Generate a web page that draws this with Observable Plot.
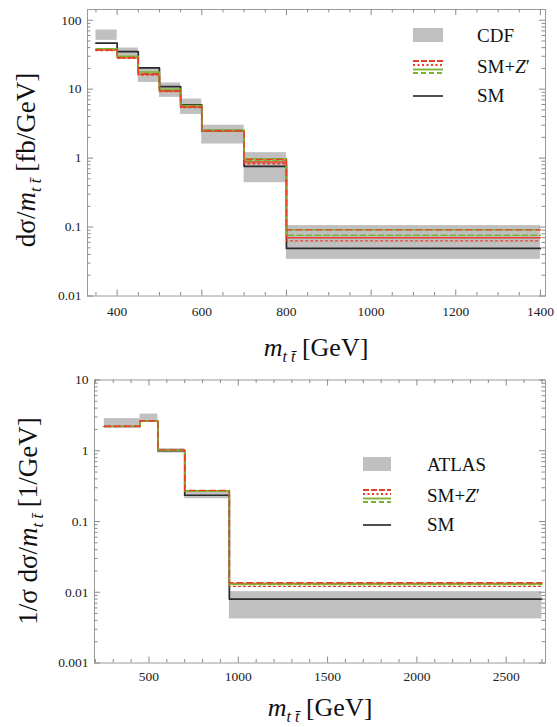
<!DOCTYPE html>
<html><head><meta charset="utf-8">
<script src="https://cdn.jsdelivr.net/npm/d3@7"></script>
<script src="https://cdn.jsdelivr.net/npm/@observablehq/plot@0.6"></script>
<style>
body{margin:0;background:#fff;}
#chart{width:557px;}
svg{display:block;overflow:visible;}
</style></head><body><div id="chart"></div>
<script>
// ---------- Top panel (CDF) ----------
const edgesTop = [350, 400, 450, 500, 550, 600, 700, 800, 1400];
const cdfLo = [51, 29.5, 12.5, 7.6, 4.3, 1.6, 0.44, 0.034];
const cdfHi = [72, 39.5, 20.5, 12.3, 7.2, 3.0, 1.2, 0.105];
const smTop = [46.5, 35, 20.3, 10.9, 5.9, 2.5, 0.76, 0.049];
const zRedDashTop = [37.2, 28.8, 16.8, 9.5, 5.6, 2.5, 0.96, 0.091];
const zRedSolidTop = [36.8, 28.4, 16.4, 9.4, 5.5, 2.48, 0.88, 0.070];
const zRedDotTop = [36.3, 28, 16, 9.2, 5.4, 2.45, 0.83, 0.063];
const zGreenSolidTop = [38.5, 30, 17.8, 10, 5.8, 2.55, 0.98, 0.091];
const zGreenDashTop = [38, 29.5, 17.2, 9.7, 5.7, 2.52, 0.93, 0.076];
const xTicksTop = [400, 600, 800, 1000, 1200, 1400];
const yTicksTop = [0.01, 0.1, 1, 10, 100];

// ---------- Bottom panel (ATLAS) ----------
const edgesBot = [250, 450, 550, 700, 950, 2700];
const atlasLo = [2.25, 2.6, 0.93, 0.21, 0.0042];
const atlasHi = [2.85, 3.3, 1.07, 0.26, 0.0102];
const smBot = [2.2, 2.62, 1.0, 0.235, 0.0080];
const zRedDashBot = [2.22, 2.65, 1.03, 0.275, 0.0136];
const zRedSolidBot = [2.21, 2.64, 1.02, 0.272, 0.0133];
const zRedDotBot = [2.2, 2.63, 1.02, 0.27, 0.0121];
const zGreenSolidBot = [2.21, 2.64, 1.02, 0.272, 0.0131];
const zGreenDashBot = [2.2, 2.63, 1.01, 0.27, 0.0128];
const xTicksBot = [500, 1000, 1500, 2000, 2500];
const yTicksBot = [0.001, 0.01, 0.1, 1, 10];

const RED = "#e5402a", GREEN = "#79b42e", GRAY = "#c0c0c0", TICK = "#8a8a8a";
const FONT = "Liberation Serif, Times New Roman, serif";

function steps(edges, vals) {
  return edges.map((e, i) => ({x: e, y: vals[Math.min(i, vals.length - 1)]}));
}
function bins(edges, lo, hi) {
  return lo.map((l, i) => ({x1: edges[i], x2: edges[i + 1], y1: l, y2: hi[i]}));
}
function minorLog(lo, hi) {
  const out = [];
  for (let p = Math.floor(Math.log10(lo)); p <= Math.ceil(Math.log10(hi)); p++)
    for (let m = 2; m <= 9; m++) { const v = m * Math.pow(10, p); if (v > lo && v < hi) out.push(+v.toPrecision(3)); }
  return out;
}

function panel(o) {
  const fh = o.height - o.mt - o.mb;
  const fw = 557 - o.ml - o.mr;
  const zs = [
    {v: o.rS, c: RED, d: null},
    {v: o.rDot, c: RED, d: "2,3"},
    {v: o.gD, c: GREEN, d: "6,3"},
    {v: o.gS, c: GREEN, d: null},
    {v: o.rD, c: RED, d: "6,4"}
  ];
  const marks = [
    Plot.rect(bins(o.edges, o.lo, o.hi), {x1: "x1", x2: "x2", y1: "y1", y2: "y2", fill: GRAY}),
    Plot.line(steps(o.edges, o.sm), {x: "x", y: "y", curve: "step-after", stroke: "#2a2a2a", strokeWidth: 1.7}),
    ...zs.map(z => Plot.line(steps(o.edges, z.v), {x: "x", y: "y", curve: "step-after", stroke: z.c, strokeWidth: 1.4, strokeDasharray: z.d})),
    Plot.frame({stroke: "#9a9a9a", strokeWidth: 1}),
    Plot.ruleX(o.xMajor, {x: d => d, insetTop: fh - 6, stroke: TICK}),
    Plot.ruleX(o.xMinor, {x: d => d, insetTop: fh - 3.5, stroke: TICK}),
    Plot.ruleX(o.xMajor, {x: d => d, insetBottom: fh - 6, stroke: TICK}),
    Plot.ruleX(o.xMinor, {x: d => d, insetBottom: fh - 3.5, stroke: TICK}),
    Plot.ruleY(o.yMajor, {y: d => d, insetRight: fw - 6, stroke: TICK}),
    Plot.ruleY(o.yMinor, {y: d => d, insetRight: fw - 3.5, stroke: TICK}),
    Plot.ruleY(o.yMajor, {y: d => d, insetLeft: fw - 6, stroke: TICK}),
    Plot.ruleY(o.yMinor, {y: d => d, insetLeft: fw - 3.5, stroke: TICK}),
    Plot.axisX(o.xMajor, {tickSize: 0, tickPadding: o.xPad, fontSize: 13.5, fontFamily: FONT, fill: "#222", tickFormat: d => String(d)}),
    Plot.axisY(o.yMajor, {tickSize: 0, tickPadding: 6, fontSize: 13.5, fontFamily: FONT, fill: "#222", tickFormat: d => String(d)})
  ];
  const svg = Plot.plot({
    width: 557, height: o.height,
    marginLeft: o.ml, marginRight: o.mr, marginTop: o.mt, marginBottom: o.mb,
    x: {domain: o.xDomain, label: null},
    y: {type: "log", domain: o.yDomain, label: null},
    style: {fontFamily: FONT, background: "#fff", overflow: "visible"},
    marks
  });
  d3.select(svg).selectAll("text").attr("font-family", FONT);
  return svg;
}

function mLabel(sel, pre, post) {
  sel.append("tspan").text(pre);
  sel.append("tspan").attr("font-style", "italic").text("m");
  sel.append("tspan").attr("font-style", "italic").attr("font-size", "62%").attr("dy", 6).text("t t\u0304");
  sel.append("tspan").attr("dy", -6).text(post);
}

function legend(svg, y0, name, xb, wb) {
  const g = d3.select(svg).append("g").attr("font-family", FONT).attr("font-size", 19).attr("fill", "#111").attr("text-anchor", "start");
  g.append("rect").attr("x", xb).attr("y", y0).attr("width", wb).attr("height", 14).attr("fill", GRAY);
  g.append("text").attr("x", xb + 64).attr("y", y0 + 14).text(name);
  const y1 = y0 + 33;
  const rows = [[0, RED, "6,2"], [4, RED, "2,2.5"], [8.5, GREEN, null], [12, GREEN, "5,3"]];
  rows.forEach(([dy, c, d]) => g.append("line").attr("x1", xb).attr("x2", xb + wb).attr("y1", y1 + dy).attr("y2", y1 + dy)
    .attr("stroke", c).attr("stroke-width", 1.8).attr("stroke-dasharray", d));
  const t = g.append("text").attr("x", xb + 64).attr("y", y1 + 12);
  t.append("tspan").text("SM+");
  t.append("tspan").attr("font-style", "italic").text("Z");
  t.append("tspan").text("\u2032");
  g.append("line").attr("x1", xb).attr("x2", xb + wb).attr("y1", y0 + 68).attr("y2", y0 + 68).attr("stroke", "#222").attr("stroke-width", 1.6);
  g.append("text").attr("x", xb + 64).attr("y", y0 + 74).text("SM");
}

const topSvg = panel({
  height: 372, ml: 87, mr: 12, mt: 9, mb: 76.5, xPad: 10,
  xDomain: [330, 1412], yDomain: [0.01, 143],
  edges: edgesTop, lo: cdfLo, hi: cdfHi, sm: smTop,
  rD: zRedDashTop, rS: zRedSolidTop, rDot: zRedDotTop, gS: zGreenSolidTop, gD: zGreenDashTop,
  xMajor: xTicksTop, xMinor: d3.range(350, 1401, 50).filter(v => !xTicksTop.includes(v)),
  yMajor: yTicksTop, yMinor: minorLog(0.01, 143)
});
const botSvg = panel({
  height: 355, ml: 94, mr: 12, mt: 7.5, mb: 64.5, xPad: 8,
  xDomain: [195, 2720], yDomain: [0.001, 10],
  edges: edgesBot, lo: atlasLo, hi: atlasHi, sm: smBot,
  rD: zRedDashBot, rS: zRedSolidBot, rDot: zRedDotBot, gS: zGreenSolidBot, gD: zGreenDashBot,
  xMajor: xTicksBot, xMinor: d3.range(200, 2701, 100).filter(v => !xTicksBot.includes(v)),
  yMajor: yTicksBot, yMinor: minorLog(0.001, 10)
});

const ts = d3.select(topSvg);
mLabel(ts.append("text").attr("x", 316).attr("y", 356).attr("text-anchor", "middle").attr("font-family", FONT).attr("font-size", 26).attr("fill", "#111"), "", " [GeV]");
mLabel(ts.append("text").attr("transform", "translate(35,160) rotate(-90)").attr("text-anchor", "middle").attr("font-family", FONT).attr("font-size", 27).attr("fill", "#111"), "d\u03C3/", " [fb/GeV]");
const bs = d3.select(botSvg);
mLabel(bs.append("text").attr("x", 320).attr("y", 344).attr("text-anchor", "middle").attr("font-family", FONT).attr("font-size", 26).attr("fill", "#111"), "", " [GeV]");
mLabel(bs.append("text").attr("transform", "translate(37,149) rotate(-90)").attr("text-anchor", "middle").attr("font-family", FONT).attr("font-size", 27).attr("fill", "#111"), "1/\u03C3 d\u03C3/", " [1/GeV]");

legend(topSvg, 28, "CDF", 413, 30);
legend(botSvg, 85, "ATLAS", 363, 28);

document.getElementById("chart").append(topSvg, botSvg);
</script></body></html>
